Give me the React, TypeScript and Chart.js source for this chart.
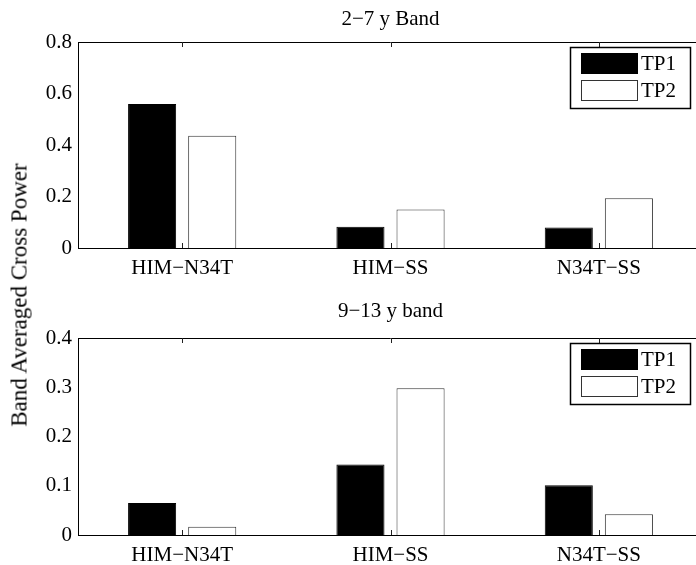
import React, { useEffect, useRef } from 'react';
import { Chart, registerables } from 'chart.js';
Chart.register(...registerables);

const categories = ['HIM−N34T', 'HIM−SS', 'N34T−SS'];
const seriesNames = ['TP1', 'TP2'];
const yAxisLabel = 'Band Averaged Cross Power';

const band1Title = '2−7 y Band';
const band1TP1 = [0.559, 0.083, 0.080];
const band1TP2 = [0.436, 0.150, 0.193];
const band1Max = 0.8;
const band1Step = 0.2;

const band2Title = '9−13 y band';
const band2TP1 = [0.065, 0.143, 0.101];
const band2TP2 = [0.017, 0.298, 0.042];
const band2Max = 0.4;
const band2Step = 0.1;

const FONT = '"Liberation Serif", "Times New Roman", serif';
const TXT = 21;
const CANVAS_W = 712;
const AXIS_LEFT = 78;
const AXIS_RIGHT = 703;

type SubProps = {
  title: string;
  tp1: number[];
  tp2: number[];
  max: number;
  step: number;
  height: number;
  top: number;
  chartTop: number;
  chartBottom: number;
  titleY: number;
};

function makeDecor(title: string, titleY: number) {
  return {
    id: 'decor',
    afterDraw(chart: any) {
      const { ctx, chartArea: a } = chart;
      ctx.save();
      ctx.strokeStyle = '#000';
      ctx.lineWidth = 1;
      ctx.beginPath();
      ctx.moveTo(a.left, Math.round(a.top) + 0.5);
      ctx.lineTo(a.right, Math.round(a.top) + 0.5);
      ctx.stroke();
      const xs = chart.scales.x;
      ctx.strokeStyle = '#222';
      for (let i = 0; i < xs.ticks.length; i++) {
        const px = Math.round(xs.getPixelForTick(i)) + 0.5;
        ctx.beginPath();
        ctx.moveTo(px, a.bottom);
        ctx.lineTo(px, a.bottom - 5);
        ctx.moveTo(px, a.top);
        ctx.lineTo(px, a.top + 5);
        ctx.stroke();
      }
      ctx.fillStyle = '#000';
      ctx.font = TXT + 'px ' + FONT;
      ctx.textAlign = 'center';
      ctx.textBaseline = 'middle';
      ctx.fillText(title, (a.left + a.right) / 2, titleY);
      const lx = a.right - 133;
      const ly = a.top + 5;
      const lw = 120;
      const lh = 61;
      ctx.fillStyle = '#fff';
      ctx.fillRect(lx, ly, lw, lh);
      ctx.strokeStyle = '#000';
      ctx.lineWidth = 1.5;
      ctx.strokeRect(lx + 0.5, ly + 0.5, lw, lh);
      const dsets = chart.data.datasets;
      dsets.forEach((ds: any, i: number) => {
        const sy = ly + 6 + i * 27;
        ctx.fillStyle = ds.backgroundColor;
        ctx.fillRect(lx + 11, sy, 56, 20);
        ctx.strokeStyle = ds.borderColor;
        ctx.lineWidth = 1;
        ctx.strokeRect(lx + 11.5, sy + 0.5, 56, 20);
        ctx.fillStyle = '#000';
        ctx.font = TXT + 'px ' + FONT;
        ctx.textAlign = 'left';
        ctx.textBaseline = 'middle';
        ctx.fillText(ds.label, lx + 71, sy + 11);
      });
      ctx.restore();
    },
  };
}

function SubChart(p: SubProps) {
  const ref = useRef<HTMLCanvasElement | null>(null);
  useEffect(() => {
    if (!ref.current) return;
    const chart = new Chart(ref.current, {
      type: 'bar',
      data: {
        labels: categories,
        datasets: [
          {
            label: seriesNames[0],
            data: p.tp1,
            backgroundColor: '#000',
            borderColor: '#000',
            borderWidth: 1,
            categoryPercentage: 0.577,
            barPercentage: 0.8,
          },
          {
            label: seriesNames[1],
            data: p.tp2,
            backgroundColor: '#fff',
            borderColor: '#333',
            borderWidth: 1,
            categoryPercentage: 0.577,
            barPercentage: 0.8,
          },
        ],
      },
      options: {
        responsive: false,
        animation: false,
        layout: { padding: { top: p.chartTop, right: CANVAS_W - AXIS_RIGHT, left: 0, bottom: 0 } },
        plugins: { legend: { display: false }, title: { display: false }, tooltip: { enabled: false } },
        scales: {
          x: {
            grid: { display: false, drawTicks: false },
            border: { display: true, color: '#000', width: 1 },
            ticks: { color: '#000', font: { family: FONT, size: TXT }, padding: 8, maxRotation: 0 },
            afterFit: (s: any) => {
              s.height = p.height - p.chartBottom;
            },
          },
          y: {
            min: 0,
            max: p.max,
            grid: { display: false, drawTicks: false },
            border: { display: true, color: '#000', width: 1 },
            ticks: {
              stepSize: p.step,
              color: '#000',
              font: { family: FONT, size: TXT },
              padding: 6,
              callback: (v: any) => (Math.abs(v) < 1e-9 ? '0' : Number(v).toFixed(1)),
            },
            afterFit: (s: any) => {
              s.width = AXIS_LEFT;
            },
          },
        },
      },
      plugins: [makeDecor(p.title, p.titleY)],
    } as any);
    return () => chart.destroy();
  }, []);
  return (
    <canvas
      ref={ref}
      width={CANVAS_W}
      height={p.height}
      style={{ position: 'absolute', left: 0, top: p.top, width: CANVAS_W, height: p.height }}
    />
  );
}

export default function App() {
  return (
    <div
      style={{
        position: 'absolute',
        left: 0,
        top: 0,
        width: 696,
        height: 565,
        overflow: 'hidden',
        background: '#fff',
      }}
    >
      <SubChart
        title={band1Title}
        tp1={band1TP1}
        tp2={band1TP2}
        max={band1Max}
        step={band1Step}
        height={285}
        top={0}
        chartTop={42}
        chartBottom={248}
        titleY={19.5}
      />
      <SubChart
        title={band2Title}
        tp1={band2TP1}
        tp2={band2TP2}
        max={band2Max}
        step={band2Step}
        height={280}
        top={285}
        chartTop={53}
        chartBottom={250}
        titleY={26.5}
      />
      <div
        style={{
          position: 'absolute',
          left: 19,
          top: 295,
          transform: 'translate(-50%, -50%) rotate(-90deg)',
          whiteSpace: 'nowrap',
          fontFamily: FONT,
          fontSize: 23,
          lineHeight: 1,
          color: '#000',
        }}
      >
        {yAxisLabel}
      </div>
    </div>
  );
}
